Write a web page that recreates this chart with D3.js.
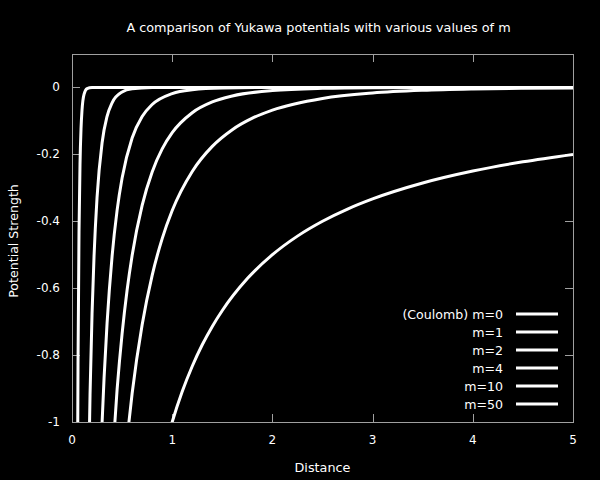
<!DOCTYPE html>
<html><head><meta charset="utf-8">
<script src="https://cdn.jsdelivr.net/npm/d3@7"></script>
<style>html,body{margin:0;padding:0;background:#000;}svg{display:block;}</style>
</head><body><svg id="c" width="600" height="480"></svg>
<script>
const labels = ["(Coulomb) m=0", "m=1", "m=2", "m=4", "m=10", "m=50"];
const xTicks = [0, 1, 2, 3, 4, 5];
const yTicks = [0, -0.2, -0.4, -0.6, -0.8, -1];
const yTickLabels = ["0", "-0.2", "-0.4", "-0.6", "-0.8", "-1"];

const m0x = [0.95, 1, 1.1, 1.2, 1.3, 1.4, 1.5, 1.75, 2, 2.25, 2.5, 2.75, 3, 3.5, 4, 4.5, 5];
const m0y = [-1.0526, -1, -0.9091, -0.8333, -0.7692, -0.7143, -0.6667, -0.5714, -0.5, -0.4444, -0.4, -0.3636, -0.3333, -0.2857, -0.25, -0.2222, -0.2];
const m1x = [0.55, 0.6, 0.7, 0.8, 0.9, 1.0, 1.2, 1.4, 1.6, 1.8, 2.0, 2.5, 3.0, 3.5, 4.0, 4.5, 5.0];
const m1y = [-1.049, -0.9147, -0.7094, -0.5617, -0.4518, -0.3679, -0.2510, -0.1761, -0.1262, -0.0918, -0.0677, -0.0328, -0.0166, -0.0086, -0.0046, -0.0025, -0.0013];
const m2x = [0.4, 0.45, 0.5, 0.55, 0.6, 0.7, 0.8, 0.9, 1.0, 1.2, 1.4, 1.6, 2.0, 2.5, 3, 4, 5];
const m2y = [-1.1233, -0.9035, -0.7358, -0.6053, -0.5020, -0.3523, -0.2524, -0.1837, -0.1353, -0.0756, -0.0434, -0.0255, -0.0092, -0.0027, -0.0008, -0.0001, 0];
const m4x = [0.29, 0.3, 0.32, 0.35, 0.4, 0.45, 0.5, 0.6, 0.7, 0.8, 1.0, 1.2, 1.5, 2, 3, 5];
const m4y = [-1.081, -1.004, -0.8688, -0.7045, -0.5047, -0.3673, -0.2707, -0.1512, -0.0869, -0.0510, -0.0183, -0.0069, -0.0017, -0.0002, 0, 0];
const m10x = [0.16, 0.18, 0.2, 0.22, 0.25, 0.3, 0.35, 0.4, 0.5, 0.6, 0.8, 1.0, 5];
const m10y = [-1.262, -0.9183, -0.6767, -0.5037, -0.3283, -0.1660, -0.0863, -0.0458, -0.0135, -0.0041, -0.0004, 0, 0];
const m50x = [0.05, 0.055, 0.06, 0.07, 0.08, 0.09, 0.1, 0.12, 0.15, 0.2, 0.3, 5];
const m50y = [-1.642, -1.162, -0.830, -0.4315, -0.2289, -0.1234, -0.0674, -0.0207, -0.0037, -0.0002, 0, 0];

const seriesX = [m0x, m1x, m2x, m4x, m10x, m50x];
const seriesY = [m0y, m1y, m2y, m4y, m10y, m50y];

const svg = d3.select("#c");
const W = 600, H = 480;
svg.append("rect").attr("width", W).attr("height", H).attr("fill", "#000");
const L = 72, R = 573, T = 54, B = 422;
const x = d3.scaleLinear().domain([0, 5]).range([L, R]);
const y = d3.scaleLinear().domain([-1, 0.1]).range([B, T]);
const font = "DejaVu Sans, sans-serif";
const border = "#a0a0a0";

svg.append("defs").append("clipPath").attr("id", "clip")
  .append("rect").attr("x", L).attr("y", T).attr("width", R - L).attr("height", B - T);

// ticks (gnuplot style, inward, mirrored)
const tl = 8;
const g = svg.append("g").attr("stroke", border).attr("stroke-width", 1);
xTicks.forEach(v => {
  const px = Math.round(x(v)) + 0.5;
  g.append("line").attr("x1", px).attr("x2", px).attr("y1", B).attr("y2", B - tl);
  g.append("line").attr("x1", px).attr("x2", px).attr("y1", T).attr("y2", T + tl);
});
yTicks.forEach(v => {
  const py = Math.round(y(v)) + 0.5;
  g.append("line").attr("x1", L).attr("x2", L + tl).attr("y1", py).attr("y2", py);
  g.append("line").attr("x1", R).attr("x2", R - tl).attr("y1", py).attr("y2", py);
});

// tick labels
svg.append("g").selectAll("text").data(xTicks).join("text")
  .attr("x", d => x(d)).attr("y", 444).attr("text-anchor", "middle")
  .attr("fill", "#fff").attr("font-family", font).attr("font-size", 12).text(d => d);
svg.append("g").selectAll("text").data(yTicks).join("text")
  .attr("x", 60).attr("y", d => y(d) + 4).attr("text-anchor", "end")
  .attr("fill", "#fff").attr("font-family", font).attr("font-size", 12)
  .text((d, i) => yTickLabels[i]);

// curves
const line = d3.line().x(d => x(d[0])).y(d => y(d[1])).curve(d3.curveMonotoneX);
const cg = svg.append("g").attr("clip-path", "url(#clip)");
seriesX.forEach((xs, i) => {
  const pts = xs.map((v, j) => [v, seriesY[i][j]]);
  cg.append("path").attr("d", line(pts)).attr("fill", "none")
    .attr("stroke", "#fff").attr("stroke-width", 3).attr("stroke-linejoin", "round");
});

// border
svg.append("rect").attr("x", L + 0.5).attr("y", T + 0.5).attr("width", R - L).attr("height", B - T)
  .attr("fill", "none").attr("stroke", border).attr("stroke-width", 1);

// legend
labels.forEach((lab, i) => {
  const ly = 314 + i * 18;
  svg.append("text").attr("x", 503).attr("y", ly + 4.5).attr("text-anchor", "end")
    .attr("fill", "#fff").attr("font-family", font).attr("font-size", 12.6).text(lab);
  svg.append("line").attr("x1", 516).attr("x2", 558).attr("y1", ly).attr("y2", ly)
    .attr("stroke", "#fff").attr("stroke-width", 3);
});

// titles
svg.append("text").attr("x", (L + R) / 2 - 4).attr("y", 32).attr("text-anchor", "middle")
  .attr("fill", "#fff").attr("font-family", font).attr("font-size", 12.8)
  .text("A comparison of Yukawa potentials with various values of m");
svg.append("text").attr("x", (L + R) / 2).attr("y", 472).attr("text-anchor", "middle")
  .attr("fill", "#fff").attr("font-family", font).attr("font-size", 12.8).text("Distance");
svg.append("text").attr("transform", `translate(18,${(T + B) / 2 + 3}) rotate(-90)`)
  .attr("text-anchor", "middle").attr("fill", "#fff").attr("font-family", font)
  .attr("font-size", 12.6).text("Potential Strength");
</script></body></html>
